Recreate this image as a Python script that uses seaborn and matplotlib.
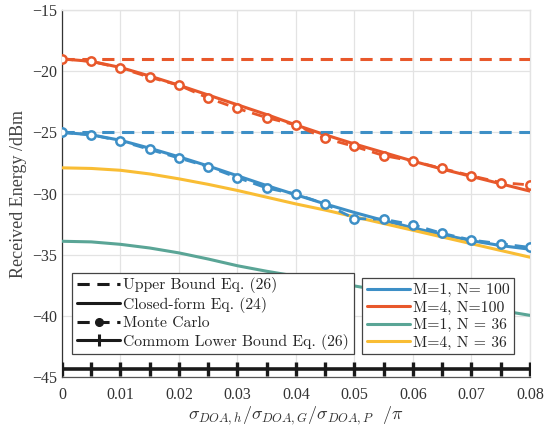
import numpy as np
import pandas as pd
import matplotlib
matplotlib.use("Agg")
import matplotlib.pyplot as plt
from matplotlib.lines import Line2D
import seaborn as sns

# ---------------- data ----------------
sigma = [0, 0.005, 0.01, 0.015, 0.02, 0.025, 0.03, 0.035, 0.04,
         0.045, 0.05, 0.055, 0.06, 0.065, 0.07, 0.075, 0.08]

cf_m1_n100 = [-25.0, -25.2, -25.65, -26.3, -27.0, -27.75, -28.55, -29.35, -30.1,
              -30.85, -31.55, -32.2, -32.8, -33.35, -33.85, -34.25, -34.55]
cf_m4_n100 = [-19.0, -19.2, -19.7, -20.4, -21.15, -21.95, -22.75, -23.55, -24.4,
              -25.2, -25.95, -26.65, -27.35, -28.0, -28.6, -29.2, -29.8]
cf_m1_n36 = [-33.9, -33.95, -34.15, -34.45, -34.85, -35.35, -35.9, -36.35, -36.75,
             -37.15, -37.55, -37.95, -38.35, -38.75, -39.15, -39.55, -39.95]
cf_m4_n36 = [-27.9, -27.95, -28.1, -28.4, -28.8, -29.25, -29.75, -30.3, -30.85,
             -31.35, -31.9, -32.45, -33.0, -33.55, -34.1, -34.65, -35.2]

mc_m1_n100 = [-25.0, -25.2, -25.7, -26.4, -27.1, -27.8, -28.7, -29.55, -30.05,
              -30.85, -32.05, -32.1, -32.55, -33.25, -33.8, -34.1, -34.4]
mc_m4_n100 = [-19.0, -19.2, -19.75, -20.5, -21.15, -22.2, -23.05, -23.8, -24.4,
              -25.5, -26.15, -26.9, -27.35, -27.95, -28.55, -29.1, -29.3]

upper_m1_n100 = -25.0
upper_m4_n100 = -19.0
lower_common = -44.3

series_labels = ["M=1, N= 100", "M=4, N=100", "M=1, N = 36", "M=4, N = 36"]
style_labels = ["Upper Bound Eq. (26)", "Closed-form Eq. (24)", "Monte Carlo",
                "Commom Lower Bound Eq. (26)"]
x_ticks = [0, 0.01, 0.02, 0.03, 0.04, 0.05, 0.06, 0.07, 0.08]
y_ticks = [-45, -40, -35, -30, -25, -20, -15]

colors = {"M=1, N= 100": "#3d8fc6", "M=4, N=100": "#e8582b",
          "M=1, N = 36": "#5aa596", "M=4, N = 36": "#f9bd34"}

# ---------------- figure ----------------
sns.set_theme(style="white")
plt.rcParams["font.family"] = ["Liberation Serif", "DejaVu Serif"]
plt.rcParams["mathtext.fontset"] = "cm"

fig = plt.figure(figsize=(5.44, 4.32), dpi=100)
ax = fig.add_axes([0.114, 0.127, 0.860, 0.850])

cf = pd.DataFrame({
    "x": sigma * 4,
    "y": cf_m1_n100 + cf_m4_n100 + cf_m1_n36 + cf_m4_n36,
    "s": sum([[l] * len(sigma) for l in series_labels], []),
})
sns.lineplot(data=cf, x="x", y="y", hue="s", palette=colors, ax=ax,
             linewidth=2.2, legend=False, zorder=3)

# upper bounds
for lab, val in zip(series_labels[:2], [upper_m1_n100, upper_m4_n100]):
    sub = pd.DataFrame({"x": sigma, "y": [val] * len(sigma)})
    sns.lineplot(data=sub, x="x", y="y", color=colors[lab], ax=ax, linewidth=2.2,
                 legend=False, zorder=3)
    ax.lines[-1].set_dashes([4, 2.5])

# Monte Carlo
for lab, vals in zip(series_labels[:2], [mc_m1_n100, mc_m4_n100]):
    sub = pd.DataFrame({"x": sigma, "y": vals})
    sns.lineplot(data=sub, x="x", y="y", color=colors[lab], ax=ax, linewidth=2.0,
                 marker="o", markersize=6, markerfacecolor="white",
                 markeredgecolor=colors[lab], markeredgewidth=1.8,
                 legend=False, zorder=4)
    ax.lines[-1].set_dashes([4, 2.5])

# lower bound
lb = pd.DataFrame({"x": sigma, "y": [lower_common] * len(sigma)})
sns.lineplot(data=lb, x="x", y="y", color="#1a1a1a", ax=ax, linewidth=2.6,
             marker="|", markersize=10, markeredgewidth=2.4,
             markeredgecolor="#1a1a1a", legend=False, zorder=5)

# axes styling
ax.set_xlim(0, 0.08)
ax.set_ylim(-45, -15)
ax.set_xticks(x_ticks)
ax.set_xticklabels(["0" if t == 0 else f"{t:g}" for t in x_ticks])
ax.set_yticks(y_ticks)
ax.grid(True, color="#e3e3e3", linewidth=0.9)
ax.set_axisbelow(True)
ax.tick_params(direction="in", length=4, width=0.8, colors="#333333",
               labelsize=11.5, labelcolor="#333333")
ax.tick_params(axis="x", pad=7)
for side in ["top", "right"]:
    ax.spines[side].set_color("#e3e3e3")
    ax.spines[side].set_linewidth(1.0)
ax.spines["left"].set_color("#333333")
ax.spines["bottom"].set_color("#555555")
for side in ["left", "bottom"]:
    ax.spines[side].set_linewidth(0.9)

ax.set_xlabel(r"$\sigma_{DOA,h}/\sigma_{DOA,G}/\sigma_{DOA,P}\ \ /\pi$",
              fontsize=13, color="#333333", labelpad=1)
ax.set_ylabel("Received Energy /dBm", fontsize=13, color="#444444", labelpad=4)

# legends
k = "#1a1a1a"
legprop = {"family": "cmr10", "size": 11.3}
h_style = [
    Line2D([], [], color=k, lw=2.2, dashes=[4, 2.5]),
    Line2D([], [], color=k, lw=2.2),
    Line2D([], [], color=k, lw=2.2, dashes=[4, 2.5], marker="o", markersize=5.5,
           markerfacecolor=k, markeredgecolor=k),
    Line2D([], [], color=k, lw=2.2, marker="|", markersize=9, markeredgewidth=2.2,
           markeredgecolor=k),
]
leg1 = ax.legend(h_style, style_labels,
                 loc="lower left", bbox_to_anchor=(0.022, 0.062), prop=legprop,
                 frameon=True, fancybox=False, framealpha=1, edgecolor="#444444",
                 handlelength=2.75, handletextpad=0.2, labelspacing=0.22,
                 borderpad=0.3, borderaxespad=0)
leg1.get_frame().set_linewidth(0.9)
ax.add_artist(leg1)

h_ser = [Line2D([], [], color=colors[l], lw=2.2) for l in series_labels]
leg2 = ax.legend(h_ser, series_labels,
                 loc="lower left", bbox_to_anchor=(0.641, 0.062), prop=legprop,
                 frameon=True, fancybox=False, framealpha=1, edgecolor="#444444",
                 handlelength=2.75, handletextpad=0.2, labelspacing=0.22,
                 borderpad=0.3, borderaxespad=0)
leg2.get_frame().set_linewidth(0.9)

fig.savefig("out.png", dpi=100)
